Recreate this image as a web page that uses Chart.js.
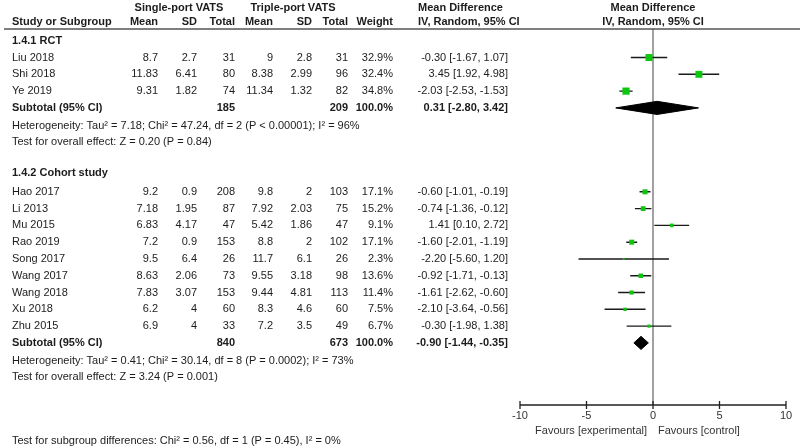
<!DOCTYPE html>
<html>
<head>
<meta charset="utf-8">
<script src="https://cdn.jsdelivr.net/npm/chart.js@4.4.1/dist/chart.umd.min.js"></script>
<style>
  html, body { margin: 0; padding: 0; background: #fff; }
  #wrap { width: 800px; height: 447px; position: relative; }
</style>
</head>
<body>
<div id="wrap"><canvas id="forest"></canvas></div>
<script>
// 1.4.1 RCT
const rctStudies = ['Liu 2018', 'Shi 2018', 'Ye 2019'];
const rctMean1 = [8.7, 11.83, 9.31];
const rctSD1 = [2.7, 6.41, 1.82];
const rctN1 = [31, 80, 74];
const rctMean2 = [9, 8.38, 11.34];
const rctSD2 = [2.8, 2.99, 1.32];
const rctN2 = [31, 96, 82];
const rctWeight = [32.9, 32.4, 34.8];
const rctMD = [-0.30, 3.45, -2.03];
const rctLo = [-1.67, 1.92, -2.53];
const rctHi = [1.07, 4.98, -1.53];
const rctSubtotal = [185, 209];            // totals single / triple
const rctPooled = [0.31, -2.80, 3.42];     // md, lo, hi
const rctHet = 'Heterogeneity: Tau² = 7.18; Chi² = 47.24, df = 2 (P < 0.00001); I² = 96%';
const rctTest = 'Test for overall effect: Z = 0.20 (P = 0.84)';

// 1.4.2 Cohort study
const cohStudies = ['Hao 2017', 'Li 2013', 'Mu 2015', 'Rao 2019', 'Song 2017', 'Wang 2017', 'Wang 2018', 'Xu 2018', 'Zhu 2015'];
const cohMean1 = [9.2, 7.18, 6.83, 7.2, 9.5, 8.63, 7.83, 6.2, 6.9];
const cohSD1 = [0.9, 1.95, 4.17, 0.9, 6.4, 2.06, 3.07, 4, 4];
const cohN1 = [208, 87, 47, 153, 26, 73, 153, 60, 33];
const cohMean2 = [9.8, 7.92, 5.42, 8.8, 11.7, 9.55, 9.44, 8.3, 7.2];
const cohSD2 = [2, 2.03, 1.86, 2, 6.1, 3.18, 4.81, 4.6, 3.5];
const cohN2 = [103, 75, 47, 102, 26, 98, 113, 60, 49];
const cohWeight = [17.1, 15.2, 9.1, 17.1, 2.3, 13.6, 11.4, 7.5, 6.7];
const cohMD = [-0.60, -0.74, 1.41, -1.60, -2.20, -0.92, -1.61, -2.10, -0.30];
const cohLo = [-1.01, -1.36, 0.10, -2.01, -5.60, -1.71, -2.62, -3.64, -1.98];
const cohHi = [-0.19, -0.12, 2.72, -1.19, 1.20, -0.13, -0.60, -0.56, 1.38];
const cohSubtotal = [840, 673];
const cohPooled = [-0.90, -1.44, -0.35];
const cohHet = 'Heterogeneity: Tau² = 0.41; Chi² = 30.14, df = 8 (P = 0.0002); I² = 73%';
const cohTest = 'Test for overall effect: Z = 3.24 (P = 0.001)';

const subgroupTest = 'Test for subgroup differences: Chi² = 0.56, df = 1 (P = 0.45), I² = 0%';
const xTicks = [-10, -5, 0, 5, 10];

// row layout (one unit per table line)
const rctRows = rctStudies.map((_, i) => 1 + i);
const rctSubRow = 1 + rctStudies.length;
const cohTitleRow = rctSubRow + 4;
const cohRows = cohStudies.map((_, i) => cohTitleRow + 1 + i);
const cohSubRow = cohTitleRow + 1 + cohStudies.length;

const GREEN = '#0fc60f';
const INK = '#1c1c1c';
const FONT = '"Liberation Sans", Arial, sans-serif';
const DIAMOND_H = 0.39;

const allRows = [...rctRows, ...cohRows];
const allMD = [...rctMD, ...cohMD];
const allLo = [...rctLo, ...cohLo];
const allHi = [...rctHi, ...cohHi];
const allWeight = [...rctWeight, ...cohWeight];

const squares = allMD.map((m, i) => ({ x: m, y: allRows[i] }));
const ciLines = [];
allRows.forEach((r, i) => {
  ciLines.push({ x: allLo[i], y: r }, { x: allHi[i], y: r }, { x: null, y: null });
});
function diamond(p, row) {
  return [
    { x: p[1], y: row }, { x: p[0], y: row - DIAMOND_H },
    { x: p[2], y: row }, { x: p[0], y: row + DIAMOND_H }, { x: p[1], y: row }
  ];
}

const f2 = v => v.toFixed(2);
const ciText = (m, l, h) => `${f2(m)} [${f2(l)}, ${f2(h)}]`;

// table text + axis drawn with the chart's own scales
const tablePlugin = {
  id: 'forestTable',
  beforeDatasetsDraw(chart) {
    const { ctx, chartArea, scales: { x } } = chart;
    const x0 = x.getPixelForValue(0);
    ctx.save();
    ctx.strokeStyle = '#6f6f6f';
    ctx.lineWidth = 1.3;
    ctx.beginPath();
    ctx.moveTo(x0, chartArea.top);
    ctx.lineTo(x0, chartArea.bottom);
    ctx.stroke();
    ctx.restore();
  },
  afterDraw(chart) {
    const { ctx, chartArea, scales: { x, y } } = chart;
    const col = { mean1: 158, sd1: 197, n1: 235, mean2: 273, sd2: 312, n2: 348, weight: 393, ci: 508 };
    const txt = (s, px, row, align, bold) => {
      ctx.font = (bold ? 'bold ' : '') + '11px ' + FONT;
      ctx.textAlign = align;
      ctx.fillText(s, px, typeof row === 'number' ? y.getPixelForValue(row) : row.px);
    };
    ctx.save();
    ctx.fillStyle = INK;
    ctx.textBaseline = 'middle';

    // headers
    const h1 = -1.95, h2 = -1.1;
    txt('Single-port VATS', 179, h1, 'center', true);
    txt('Triple-port VATS', 293, h1, 'center', true);
    txt('Mean Difference', 418, h1, 'left', true);
    txt('Mean Difference', x.getPixelForValue(0), h1, 'center', true);
    txt('Study or Subgroup', 12, h2, 'left', true);
    txt('Mean', col.mean1, h2, 'right', true);
    txt('SD', col.sd1, h2, 'right', true);
    txt('Total', col.n1, h2, 'right', true);
    txt('Mean', col.mean2, h2, 'right', true);
    txt('SD', col.sd2, h2, 'right', true);
    txt('Total', col.n2, h2, 'right', true);
    txt('Weight', col.weight, h2, 'right', true);
    txt('IV, Random, 95% CI', 418, h2, 'left', true);
    txt('IV, Random, 95% CI', x.getPixelForValue(0), h2, 'center', true);

    ctx.strokeStyle = '#555';
    ctx.lineWidth = 1.4;
    ctx.beginPath();
    ctx.moveTo(4, chartArea.top);
    ctx.lineTo(800, chartArea.top);
    ctx.stroke();

    const group = (title, titleRow, names, rows, m1, s1, n1, m2, s2, n2, w, md, lo, hi, subRow, sub, pooled, het, test) => {
      txt(title, 12, titleRow, 'left', true);
      names.forEach((name, i) => {
        const r = rows[i];
        txt(name, 12, r, 'left');
        txt(String(m1[i]), col.mean1, r, 'right');
        txt(String(s1[i]), col.sd1, r, 'right');
        txt(String(n1[i]), col.n1, r, 'right');
        txt(String(m2[i]), col.mean2, r, 'right');
        txt(String(s2[i]), col.sd2, r, 'right');
        txt(String(n2[i]), col.n2, r, 'right');
        txt(w[i].toFixed(1) + '%', col.weight, r, 'right');
        txt(ciText(md[i], lo[i], hi[i]), col.ci, r, 'right');
      });
      txt('Subtotal (95% CI)', 12, subRow, 'left', true);
      txt(String(sub[0]), col.n1, subRow, 'right', true);
      txt(String(sub[1]), col.n2, subRow, 'right', true);
      txt('100.0%', col.weight, subRow, 'right', true);
      txt(ciText(pooled[0], pooled[1], pooled[2]), col.ci, subRow, 'right', true);
      txt(het, 12, subRow + 1.05, 'left');
      txt(test, 12, subRow + 2.05, 'left');
    };
    group('1.4.1 RCT', 0, rctStudies, rctRows, rctMean1, rctSD1, rctN1, rctMean2, rctSD2, rctN2,
      rctWeight, rctMD, rctLo, rctHi, rctSubRow, rctSubtotal, rctPooled, rctHet, rctTest);
    group('1.4.2 Cohort study', cohTitleRow - 0.15, cohStudies, cohRows, cohMean1, cohSD1, cohN1, cohMean2, cohSD2, cohN2,
      cohWeight, cohMD, cohLo, cohHi, cohSubRow, cohSubtotal, cohPooled, cohHet, cohTest);
    txt(subgroupTest, 12, cohSubRow + 5.85, 'left');

    // x axis with crossing ticks
    const yAx = chartArea.bottom;
    ctx.strokeStyle = '#222';
    ctx.lineWidth = 1.3;
    ctx.beginPath();
    ctx.moveTo(x.getPixelForValue(xTicks[0]), yAx);
    ctx.lineTo(x.getPixelForValue(xTicks[xTicks.length - 1]), yAx);
    xTicks.forEach(t => {
      const px = x.getPixelForValue(t);
      ctx.moveTo(px, yAx - 4);
      ctx.lineTo(px, yAx + 4);
    });
    ctx.stroke();
    ctx.fillStyle = '#333';
    xTicks.forEach(t => txt(String(t), x.getPixelForValue(t), { px: yAx + 11 }, 'center'));
    txt('Favours [experimental]', x.getPixelForValue(0) - 6, { px: yAx + 26 }, 'right');
    txt('Favours [control]', x.getPixelForValue(0) + 5, { px: yAx + 26 }, 'left');
    ctx.restore();
  }
};

new Chart(document.getElementById('forest'), {
  type: 'scatter',
  data: {
    datasets: [
      {
        label: 'Studies',
        data: squares,
        pointStyle: 'rect',
        backgroundColor: GREEN,
        borderColor: GREEN,
        borderWidth: 0,
        pointRadius: c => (1.22 * Math.sqrt(allWeight[c.dataIndex])) / Math.SQRT2,
        order: 0
      },
      {
        label: 'CI',
        data: ciLines,
        showLine: true,
        spanGaps: false,
        borderColor: '#1a1a1a',
        borderWidth: 1.4,
        pointRadius: 0,
        order: 1
      },
      {
        label: 'RCT pooled',
        data: diamond(rctPooled, rctSubRow),
        showLine: true,
        fill: 'shape',
        backgroundColor: '#000',
        borderColor: '#000',
        borderWidth: 1,
        tension: 0,
        pointRadius: 0,
        order: 0
      },
      {
        label: 'Cohort pooled',
        data: diamond(cohPooled, cohSubRow),
        showLine: true,
        fill: 'shape',
        backgroundColor: '#000',
        borderColor: '#000',
        borderWidth: 1,
        tension: 0,
        pointRadius: 0,
        order: 0
      }
    ]
  },
  options: {
    responsive: true,
    maintainAspectRatio: false,
    animation: false,
    layout: { padding: { left: 520, right: 14, top: 29, bottom: 42 } },
    plugins: { legend: { display: false }, tooltip: { enabled: false } },
    scales: {
      x: { type: 'linear', min: -10, max: 10, display: false },
      y: { type: 'linear', min: -0.7, max: 21.7, reverse: true, display: false }
    }
  },
  plugins: [tablePlugin]
});
</script>
</body>
</html>
